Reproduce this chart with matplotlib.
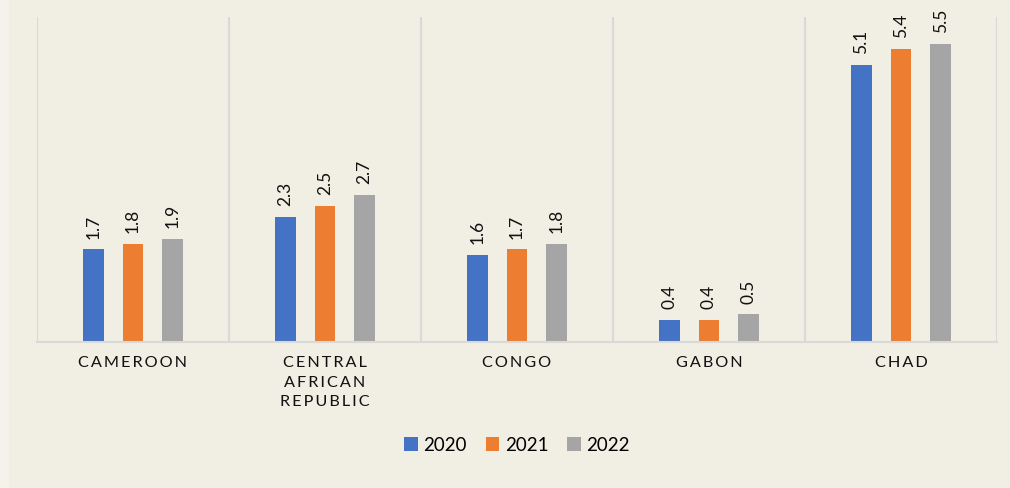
import matplotlib.pyplot as plt
import numpy as np
from matplotlib.patches import Rectangle

# data
countries = ['CAMEROON', 'CENTRAL\nAFRICAN\nREPUBLIC', 'CONGO', 'GABON', 'CHAD']
years = ['2020', '2021', '2022']
v2020 = [1.7, 2.3, 1.6, 0.4, 5.1]
v2021 = [1.8, 2.5, 1.7, 0.4, 5.4]
v2022 = [1.9, 2.7, 1.8, 0.5, 5.5]

colors = ['#4472C4', '#ED7D31', '#A5A5A5']
bg = '#F1EEE3'
fonts = ['Lato', 'DejaVu Sans']

plt.rcParams['font.family'] = fonts


def spaced(s):
    # fake letter spacing with thin spaces
    return '\n'.join('\u2009'.join(line) for line in s.split('\n'))


fig = plt.figure(figsize=(10.1, 4.89), dpi=100, facecolor=bg)
fig.patches.append(Rectangle((0, 0), 8 / 1010, 1, transform=fig.transFigure,
                             color='#F4F2EA', zorder=-1))
ax = fig.add_axes([37 / 1010, 1 - 342.5 / 489, 960 / 1010, 325 / 489])
ax.set_facecolor(bg)

x = np.arange(len(countries))
width = 0.109
offsets = [-0.206, 0, 0.206]

for vals, off, c, yr in zip([v2020, v2021, v2022], offsets, colors, years):
    bars = ax.bar(x + off, vals, width, color=c, label=yr, zorder=3)
    for b, v in zip(bars, vals):
        ax.annotate(f'{v:.1f}', (b.get_x() + b.get_width() / 2, v),
                    xytext=(0, 8.5), textcoords='offset points',
                    rotation=90, ha='center', va='bottom', fontsize=12.5,
                    color='#111111')

ax.set_xlim(-0.5, len(countries) - 0.5)
ax.set_ylim(0, 6)
ax.set_yticks([])

# vertical separators between categories
for xv in np.arange(-0.5, len(countries), 1.0):
    ax.axvline(xv, color='#D9D9D9', lw=1.5, zorder=1)

ax.set_xticks(x)
ax.set_xticklabels([spaced(c) for c in countries], fontsize=11.7,
                    linespacing=1.5, color='#111111')
ax.tick_params(axis='x', length=0, pad=10)

for s in ['top', 'left', 'right']:
    ax.spines[s].set_visible(False)
ax.spines['bottom'].set_color('#D9D9D9')
ax.spines['bottom'].set_linewidth(1.5)
ax.spines['bottom'].set_zorder(4)

fig.legend(loc='center', bbox_to_anchor=(517 / 1010, 1 - 446 / 489), ncol=3,
           frameon=False, fontsize=13.5, handlelength=0.72, handleheight=0.72,
           handletextpad=0.3, columnspacing=1.0)

plt.savefig('out.png', dpi=100, facecolor=bg)
